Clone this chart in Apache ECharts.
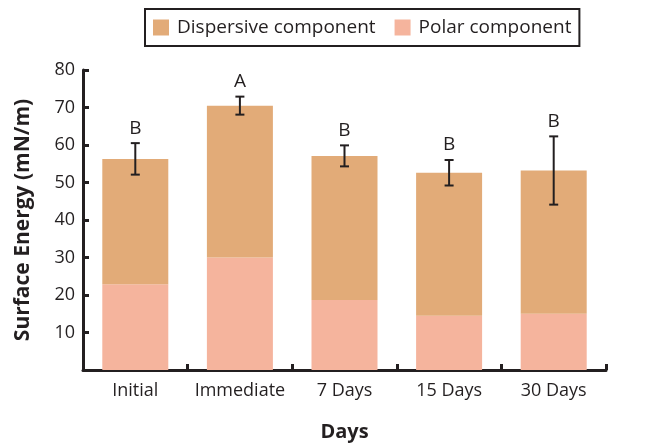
<!DOCTYPE html>
<html><head><meta charset="utf-8">
<script src="https://cdn.jsdelivr.net/npm/echarts@6/dist/echarts.min.js"></script>
<style>html,body{margin:0;padding:0;background:#fff}#c{width:652px;height:447px}</style>
</head><body><div id="c"></div>
<script>
const categories = ['Initial', 'Immediate', '7 Days', '15 Days', '30 Days'];
const polar = [22.9, 30.0, 18.7, 14.5, 15.0];
const dispersive = [33.4, 40.5, 38.4, 38.1, 38.2];
const totals = [56.3, 70.5, 57.1, 52.6, 53.2];
const errors = [4.2, 2.4, 2.8, 3.4, 9.1];
const letters = ['B', 'A', 'B', 'B', 'B'];
const yTicks = [10, 20, 30, 40, 50, 60, 70, 80];

const FONT = '"Open Sans", "Noto Sans", sans-serif';
const INK = '#231F20';

const errData = categories.map((c, i) => [i, totals[i] - errors[i], totals[i] + errors[i], letters[i]]);

const chart = echarts.init(document.getElementById('c'), null, {renderer: 'canvas'});
chart.setOption({
  animation: false,
  backgroundColor: '#fff',
  textStyle: {fontFamily: FONT},
  legend: {
    left: 145, top: 9,
    data: ['Dispersive component', 'Polar component'],
    icon: 'rect', itemWidth: 16, itemHeight: 16, itemGap: 19,
    padding: [9, 8, 9, 8],
    borderColor: INK, borderWidth: 2, borderRadius: 0,
    textStyle: {fontSize: 19, color: INK, fontFamily: FONT, padding: [0, 0, 0, 3]}
  },
  grid: {left: 83, right: 46, top: 70, bottom: 72, containLabel: false},
  xAxis: {
    type: 'category', data: categories,
    name: 'Days', nameLocation: 'middle', nameGap: 52,
    nameTextStyle: {fontSize: 20, fontWeight: 'bold', color: INK, fontFamily: FONT},
    axisLine: {lineStyle: {color: INK, width: 3}},
    axisTick: {show: true, inside: true, length: 6, lineStyle: {color: INK, width: 3}},
    axisLabel: {fontSize: 18, color: INK, margin: 12, interval: 0, fontFamily: FONT}
  },
  yAxis: {
    type: 'value', min: 0, max: 80, interval: 10,
    name: 'Surface Energy (mN/m)', nameLocation: 'middle', nameGap: 49,
    nameTextStyle: {fontSize: 21, fontWeight: 'bold', color: INK, fontFamily: FONT},
    splitLine: {show: false},
    axisLine: {show: true, lineStyle: {color: INK, width: 3}},
    axisTick: {show: true, inside: true, length: 6, lineStyle: {color: INK, width: 3}},
    axisLabel: {fontSize: 18, color: INK, margin: 8, fontFamily: FONT,
      formatter: v => yTicks.indexOf(v) >= 0 ? String(v) : ''}
  },
  series: [
    {name: 'Polar component', type: 'bar', stack: 'se', data: polar, barWidth: 66,
     itemStyle: {color: '#F5B49D'}},
    {name: 'Dispersive component', type: 'bar', stack: 'se', data: dispersive, barWidth: 66,
     itemStyle: {color: '#E2AB78'}},
    {type: 'custom', data: errData, z: 10,
     renderItem: function (params, api) {
       const x = api.value(0);
       const lo = api.coord([x, api.value(1)]);
       const hi = api.coord([x, api.value(2)]);
       const hw = 4.5;
       const st = {stroke: INK, lineWidth: 2};
       return {type: 'group', children: [
         {type: 'line', shape: {x1: lo[0], y1: lo[1], x2: hi[0], y2: hi[1]}, style: st},
         {type: 'line', shape: {x1: lo[0]-hw, y1: lo[1], x2: lo[0]+hw, y2: lo[1]}, style: st},
         {type: 'line', shape: {x1: hi[0]-hw, y1: hi[1], x2: hi[0]+hw, y2: hi[1]}, style: st},
         {type: 'text', style: {text: api.value(3), x: hi[0], y: hi[1] - 15,
           align: 'center', verticalAlign: 'middle', fontSize: 19, fill: INK, fontFamily: FONT}}
       ]};
     }}
  ]
});
</script></body></html>
